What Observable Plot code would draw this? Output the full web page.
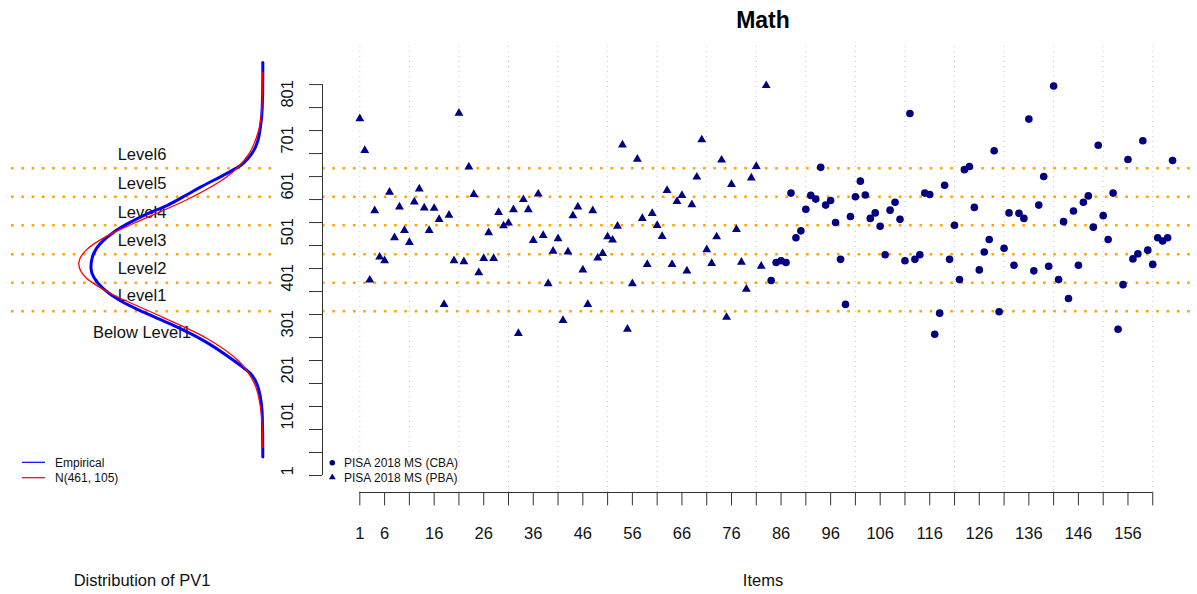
<!DOCTYPE html>
<html><head><meta charset="utf-8">
<script src="https://cdn.jsdelivr.net/npm/d3@7"></script>
<script src="https://cdn.jsdelivr.net/npm/@observablehq/plot@0.6"></script>
<style>
body{margin:0;background:#fff;font-family:"Liberation Sans",Arial,sans-serif;}
#wrap{position:relative;width:1197px;height:594px;overflow:hidden;}
#wrap svg{position:absolute;left:0;top:0;}
</style></head><body><div id="wrap"></div>
<script>
// ---- data ----
const pbaScores = [777,708,426,577,476,468,617,518,585,534,508,596,624,583,534,582,558,373,567,468,
  789,466,672,612,442,473,529,473,573,544,550,579,310,601,579,512,613,523,418,489,
  516,338,487,566,585,448,373,577,474,484,520,513,543,720,319,418,689,560,460,571,
  545,521,621,460,597,610,446,590,650,731,492,462,520,687,345,634,536,465,406,648,
  673,456,849];
const cbaStartItem = 84;
const cbaScores = [425,464,468,464,615,518,533,580,610,602,671,589,599,551,471,373,564,607,641,611,
  560,572,543,481,578,595,558,468,788,471,481,615,612,308,354,632,471,545,427,666,
  673,584,448,487,514,707,357,495,572,458,571,560,776,446,589,651,456,848,427,553,
  386,576,458,595,609,541,719,566,514,615,319,416,688,472,483,729,491,460,518,511,
  518,686];
const cutScores = [358, 420, 482, 545, 607, 669];
const levelNames = ["Below Level1","Level1","Level2","Level3","Level4","Level5","Level6"];
const levelLabelScores = [312, 392, 451, 512, 573, 636, 699];
const empScore   = [41, 128, 186, 222, 251, 296, 330, 356, 381, 407, 432, 454, 476, 505, 530, 548, 570, 588, 612, 628, 658, 675, 707, 730, 758, 801, 870, 899];
const empDensity = [0, 0.00001, 0.00008, 0.00025, 0.0006, 0.00125, 0.0019, 0.00246, 0.00294, 0.00329, 0.00349, 0.00355, 0.00352, 0.00336, 0.00308, 0.0028, 0.00239, 0.00198, 0.00156, 0.00129, 0.00074, 0.00046, 0.00019, 0.0001, 0.00005, 0.000012, 0, 0];
const normScore   = [62, 100, 150, 200, 250, 300, 350, 400, 430, 461, 490, 520, 550, 600, 650, 700, 750, 800, 878];
const normDensity = [0.000003, 0.00001, 0.00005, 0.00017, 0.0005, 0.00117, 0.00217, 0.0032, 0.00364, 0.0038, 0.00366, 0.00325, 0.00265, 0.00158, 0.00075, 0.00029, 0.00009, 0.00002, 0.000002];
const xTicks = [1,6,11,16,21,26,31,36,41,46,51,56,61,66,71,76,81,86,91,96,101,106,111,116,121,126,131,136,141,146,151,156,161];
const xTickLabels = [1,6,16,26,36,46,56,66,76,86,96,106,116,126,136,146,156];
const gridItems = [1,11,21,31,41,51,61,71,81,91,101,111,121,131,141,151,161];
const yTicks = [1,51,101,151,201,251,301,351,401,451,501,551,601,651,701,751,801,851];
const yTickLabels = [1,101,201,301,401,501,601,701,801];
const itemDomain = [-6.53, 170.03];
const cutExtent = [-6.53, 168.6];
const scoreDomain = [-36, 936];
const densityDomain = [0.00519, -0.0002];

const pba = pbaScores.map((s, i) => ({item: i + 1, score: s}));
const cba = cbaScores.map((s, i) => ({item: cbaStartItem + i, score: s}));
const emp = empScore.map((v, i) => ({v, d: empDensity[i]}));
const norm = normScore.map((v, i) => ({v, d: normDensity[i]}));

const FONT = '"Liberation Sans", Arial, sans-serif';
const dotted = {stroke: "orange", strokeWidth: 2.6, strokeDasharray: "2.6,7.7"};
const wrap = document.getElementById("wrap");

const left = Plot.plot({
  width: 1197, height: 594,
  marginLeft: 11, marginRight: 925, marginTop: 45, marginBottom: 102,
  x: {domain: densityDomain, axis: null},
  y: {domain: scoreDomain, axis: null},
  style: {fontFamily: FONT, background: "transparent", overflow: "visible"},
  marks: [
    Plot.ruleY(cutScores, {...dotted}),
    Plot.text(levelNames, {y: (d, i) => levelLabelScores[i], text: d => d, frameAnchor: "middle", fontSize: 16.5, fill: "#111"}),
    Plot.line(emp, {x: "d", y: "v", stroke: "blue", strokeWidth: 3, curve: "monotone-y"}),
    Plot.line(norm, {x: "d", y: "v", stroke: "red", strokeWidth: 1.3, curve: "monotone-y"}),
    Plot.text(["Distribution of PV1"], {frameAnchor: "bottom", lineAnchor: "middle", dy: 88, fontSize: 16.5, fill: "#111"})
  ]
});

const right = Plot.plot({
  width: 1197, height: 594,
  marginLeft: 322, marginRight: 0, marginTop: 45, marginBottom: 102,
  x: {domain: itemDomain, axis: null},
  y: {domain: scoreDomain, axis: null},
  style: {fontFamily: FONT, background: "transparent", overflow: "visible"},
  marks: [
    Plot.ruleX(gridItems, {y1: scoreDomain[0], y2: scoreDomain[1], stroke: "#c8c8c8", strokeDasharray: "1,4"}),
    Plot.ruleY(cutScores, {x1: cutExtent[0], x2: cutExtent[1], ...dotted}),
    Plot.dot(pba, {x: "item", y: "score", symbol: "triangle", fill: "#000080", r: 3.3}),
    Plot.dot(cba, {x: "item", y: "score", symbol: "circle", fill: "#000080", r: 3.8}),
    Plot.axisY({ticks: yTicks, anchor: "left", tickSize: 13, tickFormat: () => "", stroke: "#333", label: null}),
    Plot.ruleX([itemDomain[0]], {y1: yTicks[0], y2: yTicks[yTicks.length - 1], stroke: "#333"}),
    Plot.text(yTickLabels, {y: d => d, text: d => String(d), frameAnchor: "left", dx: -35, rotate: -90, fontSize: 16.5, fill: "#111"}),
    Plot.axisX({ticks: xTicks, anchor: "bottom", tickSize: 13.4, tickPadding: 21, fontSize: 16.5, stroke: "#333", fill: "#111", label: null,
      tickFormat: d => xTickLabels.includes(d) ? String(d) : ""}),
    Plot.ruleY([scoreDomain[0]], {x1: xTicks[0], x2: xTicks[xTicks.length - 1], stroke: "#333"}),
    Plot.text(["Math"], {frameAnchor: "top", lineAnchor: "middle", dy: -25, dx: 3, fontSize: 23, fontWeight: "bold", fill: "#000"}),
    Plot.text(["Items"], {frameAnchor: "bottom", lineAnchor: "middle", dy: 88, dx: 3, fontSize: 16.5, fill: "#111"})
  ]
});

wrap.appendChild(left);
wrap.appendChild(right);

// ---- legends ----
const leg = d3.select(wrap).append("svg").attr("width", 1197).attr("height", 594).style("font-family", FONT).style("pointer-events", "none");
const densLegend = [{label: "Empirical", color: "blue"}, {label: "N(461, 105)", color: "red"}];
densLegend.forEach((e, i) => {
  const y = 462.3 + i * 15.4;
  leg.append("line").attr("x1", 22).attr("x2", 45).attr("y1", y).attr("y2", y).attr("stroke", e.color).attr("stroke-width", 1.2);
  leg.append("text").attr("x", 55).attr("y", y).attr("dy", "0.35em").attr("font-size", 12).attr("fill", "#111").text(e.label);
});
const pointLegend = [{label: "PISA 2018 MS (CBA)", sym: d3.symbolCircle, size: 24}, {label: "PISA 2018 MS (PBA)", sym: d3.symbolTriangle, size: 20}];
pointLegend.forEach((e, i) => {
  const y = 462.7 + i * 14.6;
  leg.append("path").attr("d", d3.symbol(e.sym, e.size)()).attr("transform", `translate(332.3,${y})`).attr("fill", "#000080");
  leg.append("text").attr("x", 344).attr("y", y).attr("dy", "0.35em").attr("font-size", 12).attr("fill", "#111").text(e.label);
});
</script></body></html>
